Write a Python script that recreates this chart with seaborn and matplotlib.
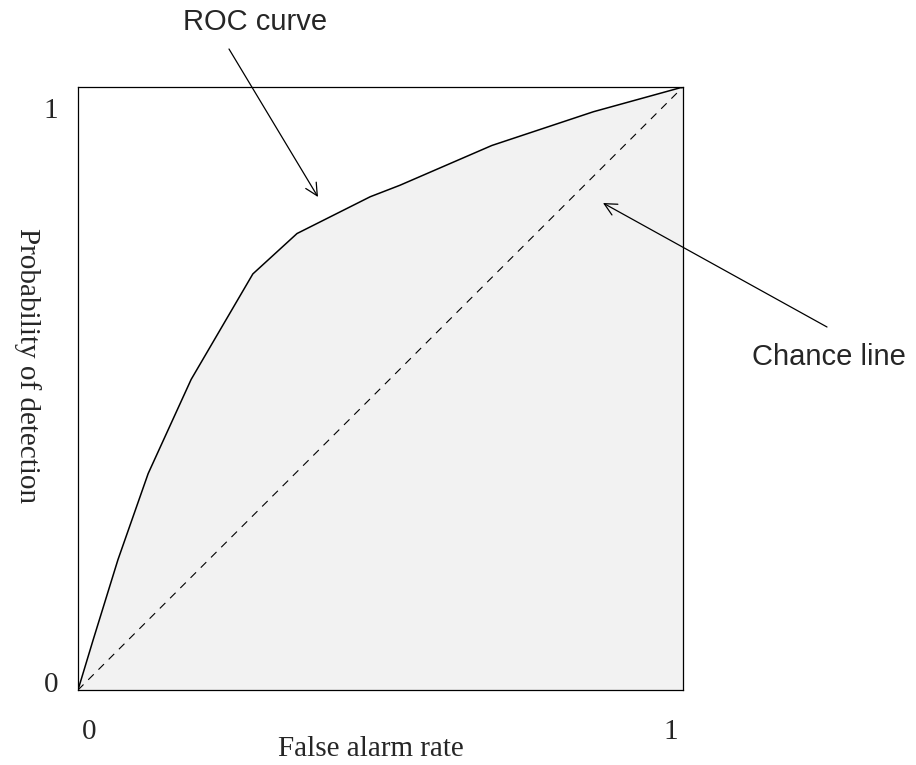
import matplotlib
matplotlib.use("Agg")
import matplotlib.pyplot as plt
import seaborn as sns
import pandas as pd

# ROC curve points
false_alarm = [0.0, 0.025, 0.066, 0.116, 0.187, 0.289, 0.362, 0.483, 0.532, 0.684, 0.852, 1.0]
detection = [0.0, 0.083, 0.216, 0.359, 0.515, 0.690, 0.757, 0.818, 0.837, 0.903, 0.959, 1.0]
chance_x = [0.0, 1.0]
chance_y = [0.0, 1.0]
tick_labels = ["0", "1"]

sns.set_theme(style="white")
plt.rcParams["font.family"] = ["Liberation Serif", "DejaVu Serif"]

fig = plt.figure(figsize=(9.16, 7.65), dpi=100)
ax = fig.add_axes([78 / 916, 75 / 765, 605 / 916, 603 / 765])

df = pd.DataFrame({"far": false_alarm, "pod": detection})
ax.fill_between(df["far"], 0, df["pod"], color="#f2f2f2", linewidth=0, zorder=1)
sns.lineplot(data=df, x="far", y="pod", sort=False, color="black",
             linewidth=1.1, ax=ax, zorder=3, estimator=None)
sns.lineplot(x=chance_x, y=chance_y, color="black", linewidth=0.8,
             dashes=False, ax=ax, zorder=2)
ax.lines[-1].set_dashes([7, 6])

ax.set_xlim(0, 1)
ax.set_ylim(0, 1)
ax.margins(0)
for s in ax.spines.values():
    s.set_visible(True)
    s.set_color("black")
    s.set_linewidth(0.9)

ax.set_xticks([0.018, 0.980])
ax.set_xticklabels(tick_labels, fontsize=21)
ax.set_yticks([0.013, 0.965])
ax.set_yticklabels(tick_labels, fontsize=21)
ax.tick_params(axis="x", length=0, pad=21)
ax.tick_params(axis="y", length=0, pad=14)
ax.set_xlabel("")
ax.set_ylabel("")

fig.text(371 / 916, 1 - 749 / 765, "False alarm rate", fontsize=21,
         ha="center", va="center")
fig.text(27 / 916, 1 - 366 / 765, "Probability of detection", fontsize=21,
         ha="center", va="center", rotation=270)

sans = ["Liberation Sans", "DejaVu Sans"]
ax.annotate("", xy=(318, 765 - 197), xycoords="figure pixels",
            xytext=(229, 765 - 49), textcoords="figure pixels",
            arrowprops=dict(arrowstyle="->", color="black", lw=0.9,
                            mutation_scale=22, shrinkA=0, shrinkB=0))
fig.text(255 / 916, 1 - 22 / 765, "ROC curve", fontsize=21, family=sans,
         ha="center", va="center")
ax.annotate("", xy=(603, 765 - 203), xycoords="figure pixels",
            xytext=(827, 765 - 327), textcoords="figure pixels",
            arrowprops=dict(arrowstyle="->", color="black", lw=0.9,
                            mutation_scale=22, shrinkA=0, shrinkB=0))
fig.text(829 / 916, 1 - 357 / 765, "Chance line", fontsize=21, family=sans,
         ha="center", va="center")

fig.savefig("out.png", dpi=100)
